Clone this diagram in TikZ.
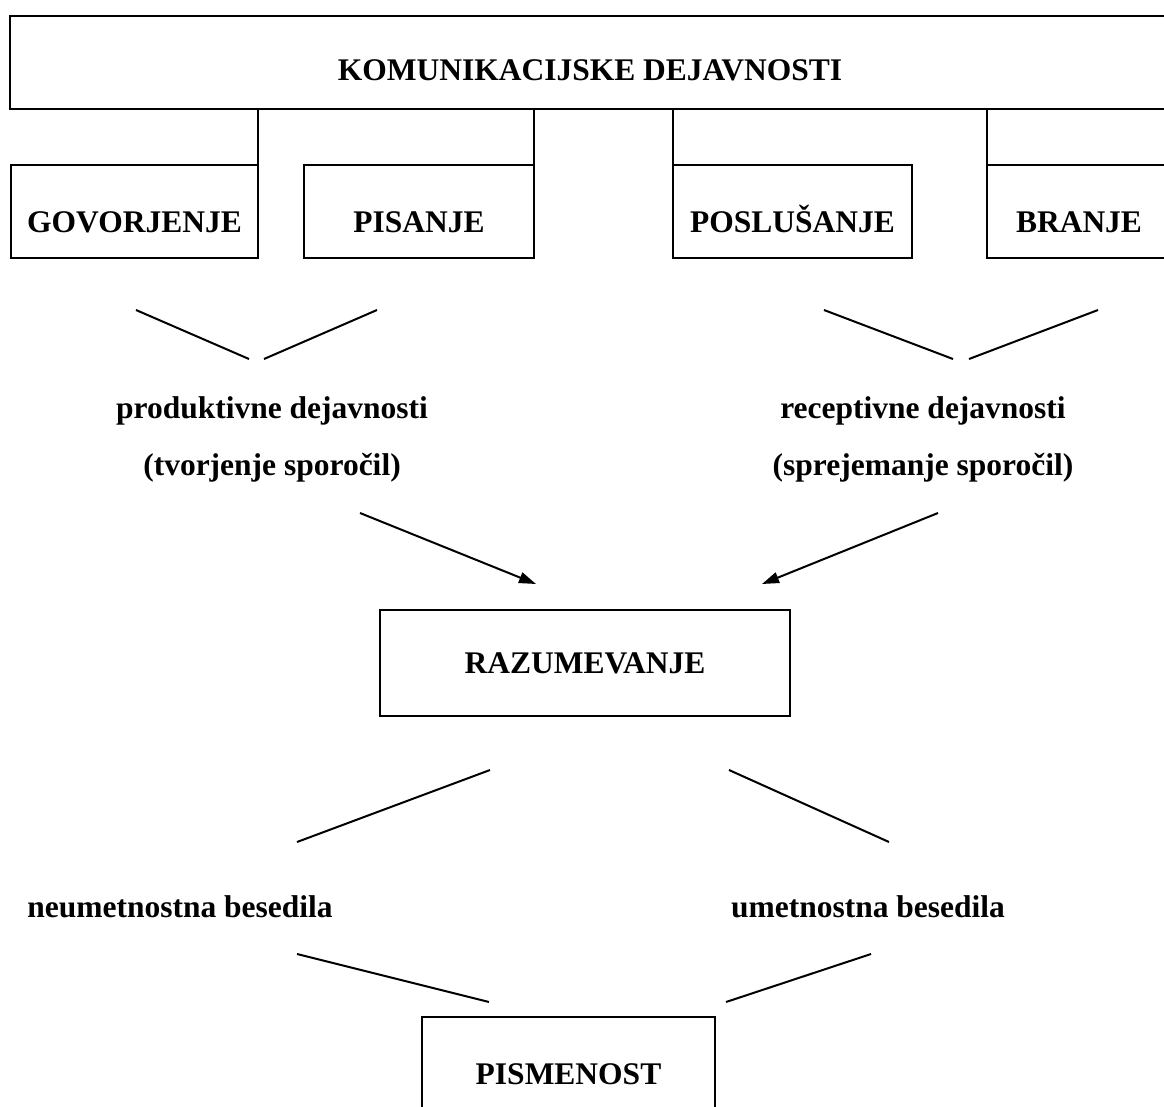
\documentclass[tikz,border=0pt]{standalone}
\usepackage{fontspec}
\setmainfont{Liberation Serif}
\usetikzlibrary{arrows.meta}

\begin{document}
\begin{tikzpicture}[x=1pt,y=-1pt,
    font=\fontsize{31.5}{57}\selectfont\bfseries,
    actbox/.style={draw, line width=2.6pt, inner sep=0pt, outer sep=0pt,
      minimum height=93pt, text height=42.8pt, text depth=0pt},
    fork/.style={line width=2pt},
    toarrow/.style={line width=2pt, -{Triangle[length=17pt,width=11pt]}}]

    % page size
    \useasboundingbox (0,0) rectangle (1164,1106);
    \clip (0,0) rectangle (1164,1106);

    % top box
    \node[actbox, minimum width=1160pt, text height=35.8pt] (komun) at (590,62.5) {KOMUNIKACIJSKE DEJAVNOSTI};

    % the four activities
    \node[actbox, minimum width=247pt] (govor) at (134.5,211.5) {GOVORJENJE};
    \node[actbox, minimum width=230pt] (pisanje) at (419,211.5) {PISANJE};
    \node[actbox, minimum width=239pt] (poslus) at (792.5,211.5) {POSLUŠANJE};
    \node[actbox, minimum width=184pt] (branje) at (1079,211.5) {BRANJE};

    % links up to the top box
    \foreach \b/\a in {govor/north east, pisanje/north east, poslus/north west, branje/north west}
      \draw[line width=2.6pt] (\b.\a) -- (\b.\a |- komun.south);

    % forks under the activities
    \coordinate (lfa) at (136,310);
    \coordinate (lfb) at (249,359);
    \coordinate (lfc) at (264,359);
    \coordinate (lfd) at (377,310);
    \draw[fork] (lfa) -- (lfb) (lfc) -- (lfd);
    \coordinate (rfa) at (824,310);
    \coordinate (rfb) at (953,359);
    \coordinate (rfc) at (969,359);
    \coordinate (rfd) at (1098,310);
    \draw[fork] (rfa) -- (rfb) (rfc) -- (rfd);

    % kinds of activities
    \node[align=center] (prod) at (272,439) {produktivne dejavnosti\\(tvorjenje sporočil)};
    \node[align=center] (recep) at (923,439) {receptivne dejavnosti\\(sprejemanje sporočil)};

    % arrows down
    \coordinate (prodarr) at (360,513);
    \coordinate (prodtip) at (536,584);
    \coordinate (receparr) at (938,513);
    \coordinate (receptip) at (762,584);
    \draw[toarrow] (prodarr) -- (prodtip);
    \draw[toarrow] (receparr) -- (receptip);

    % middle box
    \node[actbox, minimum width=410pt, minimum height=106pt, text height=20.8pt] (razum) at (585,663) {RAZUMEVANJE};

    % forks under the middle box
    \coordinate (mla) at (490,770);
    \coordinate (mlb) at (297,842);
    \coordinate (mra) at (729,770);
    \coordinate (mrb) at (889,842);
    \draw[fork] (mla) -- (mlb) (mra) -- (mrb);

    % kinds of texts
    \node (neum) at (180,906.5) {neumetnostna besedila};
    \node (umet) at (868,906.5) {umetnostna besedila};

    % forks to the last box
    \coordinate (bla) at (297,954);
    \coordinate (blb) at (489,1002);
    \coordinate (bra) at (726,1002);
    \coordinate (brb) at (871,954);
    \draw[fork] (bla) -- (blb) (bra) -- (brb);

    % last box
    \node[actbox, minimum width=293pt] (pism) at (568.5,1063.5) {PISMENOST};
\end{tikzpicture}
\end{document}
